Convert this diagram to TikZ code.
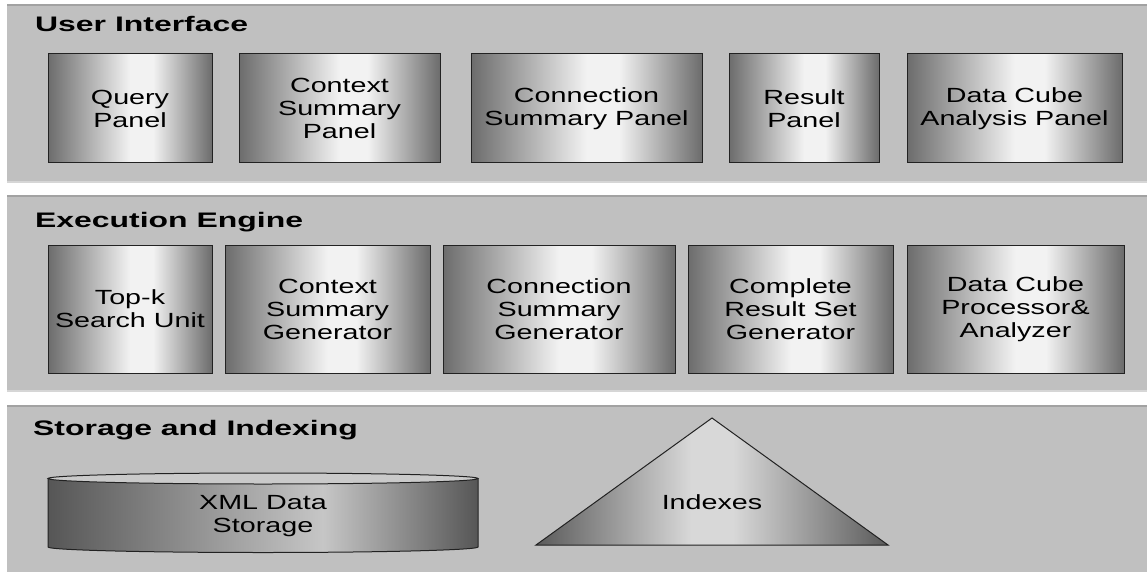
\documentclass[tikz,border=0pt]{standalone}
\usepackage{fontspec}
\newfontfamily\unitfont[FakeStretch=1.4]{Liberation Sans}
\newfontfamily\layerfont[FakeStretch=1.52]{Liberation Sans}

\definecolor{layergray}{HTML}{C0C0C0}
\definecolor{layeredge}{HTML}{A2A2A2}
\definecolor{layerlight}{HTML}{D6D6D6}
\definecolor{unitline}{HTML}{222222}
\definecolor{unitdark}{HTML}{6C6C6C}
\definecolor{unitlight}{HTML}{F2F2F2}
\definecolor{cyldark}{HTML}{565656}
\definecolor{cyllight}{HTML}{C6C6C6}
\definecolor{cyltop}{HTML}{CACACA}
\definecolor{tridark}{HTML}{5A5A5A}
\definecolor{trilight}{HTML}{D8D8D8}

\pgfdeclarehorizontalshading{unitshade}{100bp}{color(0bp)=(unitdark); color(25bp)=(unitdark);
  color(50bp)=(unitlight); color(57bp)=(unitlight); color(75bp)=(unitdark); color(100bp)=(unitdark)}
\pgfdeclarehorizontalshading{cylshade}{100bp}{color(0bp)=(cyldark); color(25bp)=(cyldark);
  color(57bp)=(cyllight); color(75bp)=(cyldark); color(100bp)=(cyldark)}
\pgfdeclarehorizontalshading{trishade}{100bp}{color(0bp)=(tridark); color(25bp)=(tridark);
  color(47bp)=(trilight); color(53bp)=(trilight); color(75bp)=(tridark); color(100bp)=(tridark)}

\tikzset{
  layertitle/.style={anchor=base west, inner sep=0pt,
    font=\layerfont\bfseries\fontsize{21}{24}\selectfont},
  unit/.style={draw=unitline, line width=1pt, shading=unitshade, align=center,
    inner sep=0pt, font=\unitfont\fontsize{20.5}{23}\selectfont},
  unittext/.style={align=center, inner sep=0pt, font=\unitfont\fontsize{20.5}{23}\selectfont},
}

\begin{document}
\begin{tikzpicture}[x=1pt,y=-1pt]
  \useasboundingbox (0,0) rectangle (1147,572);

  % the three layers
  \foreach \top/\bot in {5/182,196/391,406/574}
  {
    \fill[layergray] (7,\top) rectangle (1147,\bot);
    \draw[layeredge, line width=2pt] (7,\top) -- (1147,\top);
  }
  \foreach \bot in {182,391} \draw[layerlight, line width=1.5pt] (7,\bot) -- (1147,\bot);

  \node[layertitle] (uititle) at (35,32) {User Interface};
  \node[layertitle] (eetitle) at (35,227) {Execution Engine};
  \node[layertitle] (sititle) at (33,435) {Storage and Indexing};

  % user interface
  \foreach \n/\cx/\w/\txt in {query/130/164/{Query\\Panel},
    ctxpanel/339.5/201/{Context\\Summary\\Panel},
    conpanel/586.5/231/{Connection\\Summary Panel},
    respanel/804/150/{Result\\Panel},
    cubepanel/1014.5/215/{Data Cube\\Analysis Panel}}
    \node[unit, minimum width=\w, minimum height=109] (\n) at (\cx,108.5) {\txt};

  % execution engine
  \foreach \n/\cx/\w/\txt in {topk/130/164/{Top-k\\Search Unit},
    ctxgen/327.5/205/{Context\\Summary\\Generator},
    congen/559/232/{Connection\\Summary\\Generator},
    resgen/790.5/205/{Complete\\Result Set\\Generator},
    cubegen/1015.5/217/{Data Cube\\Processor\&\\Analyzer}}
    \node[unit, minimum width=\w, minimum height=128] (\n) at (\cx,309) {\txt};

  % storage and indexing
  \path[shading=cylshade] (48,478.5) -- (48,547) arc[start angle=180, end angle=0,
    x radius=215, y radius=5.5] -- (478,478.5) arc[start angle=0, end angle=180,
    x radius=215, y radius=5.5] -- cycle;
  \draw[unitline, line width=1pt] (48,478.5) -- (48,547) arc[start angle=180, end angle=0,
    x radius=215, y radius=5.5] -- (478,478.5);
  \draw[unitline, fill=cyltop, line width=1pt] (263,478.5) ellipse[x radius=215, y radius=5.5];
  \node[unittext] (xmlstore) at (263,516) {XML Data\\Storage};

  \draw[unitline, shading=trishade, line width=1pt] (536,545) -- (712,418) -- (888,545) -- cycle;
  \node[unittext] (indexes) at (712,502) {Indexes};
\end{tikzpicture}
\end{document}
